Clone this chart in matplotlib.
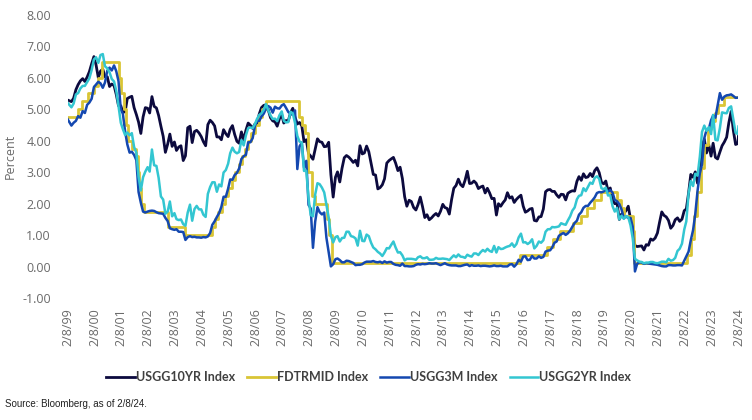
import numpy as np
import pandas as pd
import matplotlib
matplotlib.use('Agg')
import matplotlib.pyplot as plt

# month-end readings, Feb 1999 (at 2/8/99) ... Jan 2024, then 2/8/24
usgg10yr = [
    5.29, 5.24, 5.35, 5.62, 5.78, 5.90, 5.97, 5.88, 6.02, 6.19, 6.44,
    6.67, 6.41, 6.00, 6.21, 6.27, 6.03, 6.03, 5.72, 5.80, 5.75, 5.47, 5.11,
    5.11, 4.90, 4.92, 5.34, 5.38, 5.41, 5.05, 4.83, 4.59, 4.23, 4.75, 5.05,
    5.03, 4.88, 5.40, 5.09, 5.04, 4.80, 4.46, 4.14, 3.63, 3.89, 4.21, 3.82,
    3.96, 3.69, 3.80, 3.84, 3.37, 3.52, 4.41, 4.46, 3.94, 4.29, 4.33, 4.25,
    4.13, 3.97, 3.84, 4.51, 4.65, 4.58, 4.47, 4.12, 4.12, 4.03, 4.35, 4.22,
    4.13, 4.36, 4.48, 4.20, 3.98, 3.92, 4.28, 4.02, 4.33, 4.56, 4.49, 4.39,
    4.53, 4.55, 4.85, 5.05, 5.12, 5.14, 4.98, 4.73, 4.63, 4.60, 4.46, 4.70,
    4.82, 4.56, 4.64, 4.63, 4.89, 5.03, 4.74, 4.53, 4.58, 4.47, 3.97, 4.03,
    3.59, 3.51, 3.41, 3.73, 4.06, 3.97, 3.95, 3.81, 3.82, 3.95, 2.92, 2.21,
    2.84, 3.01, 2.69, 3.12, 3.46, 3.53, 3.48, 3.40, 3.31, 3.38, 3.20, 3.84,
    3.58, 3.61, 3.83, 3.65, 3.29, 2.93, 2.91, 2.47, 2.51, 2.60, 2.79, 3.29,
    3.37, 3.42, 3.47, 3.29, 3.05, 3.16, 2.80, 2.22, 1.92, 2.11, 2.07, 1.88,
    1.80, 1.97, 2.21, 1.91, 1.56, 1.65, 1.49, 1.55, 1.63, 1.69, 1.61, 1.76,
    1.98, 1.88, 1.85, 1.67, 2.13, 2.49, 2.58, 2.78, 2.61, 2.54, 2.74, 3.03,
    2.64, 2.65, 2.72, 2.65, 2.48, 2.53, 2.56, 2.34, 2.49, 2.34, 2.16, 2.17,
    1.64, 2.00, 1.92, 2.03, 2.12, 2.35, 2.18, 2.22, 2.04, 2.14, 2.21, 2.27,
    1.92, 1.73, 1.77, 1.83, 1.85, 1.47, 1.45, 1.58, 1.59, 1.83, 2.38, 2.44,
    2.45, 2.39, 2.39, 2.28, 2.20, 2.30, 2.29, 2.12, 2.33, 2.38, 2.41, 2.40,
    2.71, 2.86, 2.74, 2.95, 2.83, 2.85, 2.96, 2.86, 3.05, 3.14, 2.99, 2.68,
    2.63, 2.72, 2.41, 2.50, 2.12, 2.00, 2.01, 1.50, 1.67, 1.69, 1.78, 1.92,
    1.51, 1.15, 0.67, 0.64, 0.65, 0.66, 0.53, 0.70, 0.68, 0.88, 0.84, 0.91,
    1.07, 1.40, 1.74, 1.63, 1.58, 1.47, 1.22, 1.31, 1.49, 1.55, 1.44, 1.51,
    1.78, 1.83, 2.34, 2.93, 2.84, 3.01, 2.65, 3.19, 3.83, 4.05, 3.61, 3.87,
    3.51, 3.92, 3.47, 3.42, 3.64, 3.84, 3.96, 4.11, 4.57, 4.93, 4.33, 3.88,
    3.91, 4.16,
]

usgg3m = [
    4.68, 4.48, 4.57, 4.63, 4.78, 4.73, 4.94, 4.88, 5.14, 5.21, 5.33,
    5.70, 5.78, 5.87, 5.82, 5.68, 5.85, 6.22, 6.32, 6.23, 6.39, 6.21, 5.89,
    4.99, 4.86, 4.29, 3.88, 3.62, 3.65, 3.55, 3.38, 2.37, 2.03, 1.75, 1.72,
    1.75, 1.77, 1.78, 1.77, 1.73, 1.70, 1.69, 1.68, 1.55, 1.45, 1.22, 1.19,
    1.17, 1.19, 1.11, 1.11, 1.10, 0.85, 0.94, 0.97, 0.94, 0.95, 0.93, 0.93,
    0.92, 0.94, 0.93, 0.96, 1.07, 1.33, 1.44, 1.58, 1.70, 1.90, 2.22, 2.22,
    2.48, 2.77, 2.76, 2.91, 2.98, 3.12, 3.42, 3.51, 3.55, 3.95, 3.95, 4.08,
    4.47, 4.62, 4.63, 4.77, 4.86, 5.01, 5.10, 5.05, 4.89, 5.08, 5.03, 5.02,
    5.12, 5.16, 5.04, 4.91, 4.86, 4.82, 4.96, 3.10, 3.82, 3.94, 3.15, 3.36,
    1.96, 1.85, 0.60, 1.43, 1.89, 1.73, 1.66, 1.72, 0.92, 0.46, 0.01, 0.08,
    0.24, 0.26, 0.21, 0.14, 0.14, 0.19, 0.18, 0.15, 0.12, 0.05, 0.06, 0.06,
    0.08, 0.13, 0.16, 0.16, 0.16, 0.18, 0.15, 0.14, 0.16, 0.12, 0.17, 0.13,
    0.15, 0.15, 0.09, 0.06, 0.05, 0.03, 0.10, 0.02, 0.02, 0.01, 0.01, 0.02,
    0.06, 0.08, 0.07, 0.09, 0.08, 0.09, 0.11, 0.10, 0.10, 0.11, 0.08, 0.05,
    0.08, 0.11, 0.07, 0.05, 0.04, 0.04, 0.04, 0.02, 0.02, 0.04, 0.06, 0.07,
    0.02, 0.05, 0.03, 0.03, 0.04, 0.02, 0.03, 0.03, 0.02, 0.01, 0.02, 0.04,
    0.02, 0.02, 0.03, 0.01, 0.01, 0.01, 0.07, 0.08, 0.00, 0.08, 0.22, 0.16,
    0.32, 0.33, 0.21, 0.22, 0.34, 0.26, 0.26, 0.33, 0.28, 0.31, 0.48, 0.51,
    0.52, 0.61, 0.76, 0.80, 0.98, 1.03, 1.07, 1.01, 1.06, 1.15, 1.27, 1.39,
    1.46, 1.65, 1.73, 1.87, 1.93, 1.93, 2.03, 2.11, 2.20, 2.34, 2.37, 2.36,
    2.39, 2.44, 2.39, 2.43, 2.35, 2.12, 2.08, 1.99, 1.82, 1.54, 1.59, 1.55,
    1.55, 1.27, -0.15, 0.09, 0.14, 0.13, 0.09, 0.11, 0.10, 0.09, 0.08, 0.07,
    0.06, 0.04, 0.02, 0.01, 0.01, 0.05, 0.05, 0.04, 0.04, 0.05, 0.05, 0.04,
    0.19, 0.33, 0.48, 0.84, 1.16, 1.67, 2.41, 2.96, 3.25, 4.08, 4.34, 4.37,
    4.65, 4.80, 4.73, 5.11, 5.51, 5.30, 5.40, 5.44, 5.45, 5.47, 5.42, 5.36,
    5.37, 5.37,
]

usgg2yr = [
    5.20, 5.06, 5.18, 5.47, 5.51, 5.66, 5.74, 5.74, 5.86, 5.98, 6.24,
    6.58, 6.65, 6.47, 6.72, 6.75, 6.36, 6.30, 6.17, 5.96, 5.88, 5.59, 5.10,
    4.57, 4.37, 4.18, 4.26, 4.17, 4.24, 3.80, 3.62, 2.85, 2.42, 2.84, 3.02,
    3.16, 3.02, 3.72, 3.22, 3.20, 2.82, 2.23, 2.13, 1.68, 1.75, 2.07, 1.60,
    1.70, 1.51, 1.48, 1.50, 1.35, 1.30, 1.72, 1.97, 1.46, 1.83, 1.93, 1.82,
    1.82, 1.65, 1.58, 2.31, 2.53, 2.68, 2.68, 2.38, 2.61, 2.55, 2.99, 3.07,
    3.27, 3.60, 3.78, 3.65, 3.60, 3.64, 4.02, 3.85, 4.17, 4.40, 4.42, 4.40,
    4.53, 4.69, 4.82, 4.87, 4.98, 5.16, 4.97, 4.80, 4.69, 4.70, 4.62, 4.81,
    4.93, 4.63, 4.58, 4.59, 4.92, 4.87, 4.56, 4.15, 3.97, 3.94, 3.04, 3.05,
    2.16, 1.64, 1.60, 2.29, 2.65, 2.62, 2.51, 2.36, 1.96, 1.56, 0.98, 0.77,
    0.94, 0.97, 0.80, 0.91, 0.92, 1.11, 1.11, 0.97, 0.95, 0.90, 0.67, 1.14,
    0.82, 0.81, 1.02, 0.97, 0.76, 0.61, 0.55, 0.47, 0.42, 0.34, 0.45, 0.59,
    0.58, 0.69, 0.80, 0.61, 0.45, 0.46, 0.36, 0.20, 0.25, 0.25, 0.25, 0.24,
    0.22, 0.30, 0.33, 0.27, 0.27, 0.30, 0.22, 0.22, 0.23, 0.28, 0.25, 0.25,
    0.26, 0.25, 0.24, 0.21, 0.29, 0.36, 0.30, 0.39, 0.32, 0.31, 0.28, 0.38,
    0.34, 0.32, 0.42, 0.42, 0.37, 0.46, 0.53, 0.48, 0.57, 0.50, 0.47, 0.66,
    0.45, 0.62, 0.56, 0.57, 0.61, 0.64, 0.66, 0.74, 0.63, 0.72, 0.93, 1.05,
    0.77, 0.78, 0.72, 0.77, 0.87, 0.58, 0.66, 0.80, 0.76, 0.84, 1.11, 1.19,
    1.19, 1.26, 1.25, 1.26, 1.28, 1.38, 1.35, 1.33, 1.47, 1.60, 1.78, 1.88,
    2.14, 2.25, 2.27, 2.49, 2.40, 2.53, 2.67, 2.63, 2.82, 2.87, 2.79, 2.49,
    2.46, 2.51, 2.26, 2.27, 1.92, 1.75, 1.87, 1.50, 1.62, 1.52, 1.61, 1.57,
    1.31, 0.91, 0.25, 0.20, 0.16, 0.15, 0.11, 0.13, 0.13, 0.15, 0.15, 0.12,
    0.11, 0.13, 0.16, 0.16, 0.14, 0.25, 0.19, 0.21, 0.28, 0.50, 0.57, 0.73,
    1.18, 1.44, 2.33, 2.72, 2.56, 2.95, 2.89, 3.49, 4.28, 4.48, 4.31, 4.43,
    4.21, 4.82, 4.03, 4.01, 4.40, 4.90, 4.88, 4.87, 5.04, 5.09, 4.68, 4.25,
    4.21, 4.45,
]

# fed funds target (mid) change dates and levels
fed_dates = [
    '1999-02-08', '1999-06-30', '1999-08-24', '1999-11-16', '2000-02-02',
    '2000-03-21', '2000-05-16', '2001-01-03', '2001-01-31', '2001-03-20',
    '2001-04-18', '2001-05-15', '2001-06-27', '2001-08-21', '2001-09-17',
    '2001-10-02', '2001-11-06', '2001-12-11', '2002-11-06', '2003-06-25',
    '2004-06-30', '2004-08-10', '2004-09-21', '2004-11-10', '2004-12-14',
    '2005-02-02', '2005-03-22', '2005-05-03', '2005-06-30', '2005-08-09',
    '2005-09-20', '2005-11-01', '2005-12-13', '2006-01-31', '2006-03-28',
    '2006-05-10', '2006-06-29', '2007-09-18', '2007-10-31', '2007-12-11',
    '2008-01-22', '2008-01-30', '2008-03-18', '2008-04-30', '2008-10-08',
    '2008-10-29', '2008-12-16', '2015-12-16', '2016-12-14', '2017-03-15',
    '2017-06-14', '2017-12-13', '2018-03-21', '2018-06-13', '2018-09-26',
    '2018-12-19', '2019-07-31', '2019-09-18', '2019-10-30', '2020-03-03',
    '2020-03-15', '2022-03-16', '2022-05-04', '2022-06-15', '2022-07-27',
    '2022-09-21', '2022-11-02', '2022-12-14', '2023-02-01', '2023-03-22',
    '2023-05-03', '2023-07-26', '2024-02-08',
]
fed_levels = [
    4.75, 5.00, 5.25, 5.50, 5.75,
    6.00, 6.50, 6.00, 5.50, 5.00,
    4.50, 4.00, 3.75, 3.50, 3.00,
    2.50, 2.00, 1.75, 1.25, 1.00,
    1.25, 1.50, 1.75, 2.00, 2.25,
    2.50, 2.75, 3.00, 3.25, 3.50,
    3.75, 4.00, 4.25, 4.50, 4.75,
    5.00, 5.25, 4.75, 4.50, 4.25,
    3.50, 3.00, 2.25, 2.00, 1.50,
    1.00, 0.125, 0.375, 0.625, 0.875,
    1.125, 1.375, 1.625, 1.875, 2.125,
    2.375, 2.125, 1.875, 1.625, 1.125,
    0.125, 0.375, 0.875, 1.625, 2.375,
    3.125, 3.875, 4.375, 4.625, 4.875,
    5.125, 5.375, 5.375,
]

dates = pd.DatetimeIndex(
    [pd.Timestamp('1999-02-08')]
    + list(pd.date_range('1999-03-31', '2024-01-31', freq='ME'))
    + [pd.Timestamp('2024-02-08')]
)
fed_dates = pd.to_datetime(fed_dates)

tick_dates = pd.to_datetime(['%d-02-08' % y for y in range(1999, 2025)])
tick_labels = [d.strftime('%-m/%-d/%y') for d in tick_dates]

c10 = '#0c0a3e'
cfed = '#d9c535'
c3m = '#1448b0'
c2 = '#33c6d1'
gray = '#6a6a6a'

fig = plt.figure(figsize=(7.52, 4.2), dpi=100)
ax = fig.add_axes([0.09, 0.29, 0.892, 0.675])

ax.plot(dates, usgg10yr, color=c10, lw=2.0, label='USGG10YR Index')
ax.step(fed_dates, fed_levels, where='post', color=cfed, lw=2.0, label='FDTRMID Index')
ax.plot(dates, usgg3m, color=c3m, lw=1.8, label='USGG3M Index')
ax.plot(dates, usgg2yr, color=c2, lw=1.8, label='USGG2YR Index')

ax.set_xlim(tick_dates[0], tick_dates[-1])
ax.set_ylim(-1, 8)
ax.set_yticks(np.arange(-1, 9, 1))
ax.set_yticklabels(['%.2f' % v for v in np.arange(-1, 9, 1)])
ax.set_xticks(tick_dates)
ax.set_xticklabels(tick_labels, rotation=90)
for s in ax.spines.values():
    s.set_visible(False)
ax.tick_params(length=0, colors=gray, labelsize=9)
ax.tick_params(axis='y', pad=12)
ax.tick_params(axis='x', pad=7)
for t in ax.get_xticklabels() + ax.get_yticklabels():
    t.set_fontfamily('Open Sans')
ax.set_ylabel('Percent', color=gray, fontsize=9, family='Open Sans', labelpad=4)

leg = fig.legend(loc='center', bbox_to_anchor=(0.49, 0.102), ncol=4, frameon=False,
                 handlelength=2.3, handletextpad=0.05, columnspacing=1.0,
                 prop={'family': 'Lato', 'weight': 'bold', 'size': 9})
for t in leg.get_texts():
    t.set_color('#404040')

fig.text(0.006, 0.032, 'Source: Bloomberg, as of 2/8/24.', fontsize=7,
         family=['Liberation Sans Narrow', 'Liberation Sans'], color='#222222')

fig.savefig('out.png', dpi=100)
